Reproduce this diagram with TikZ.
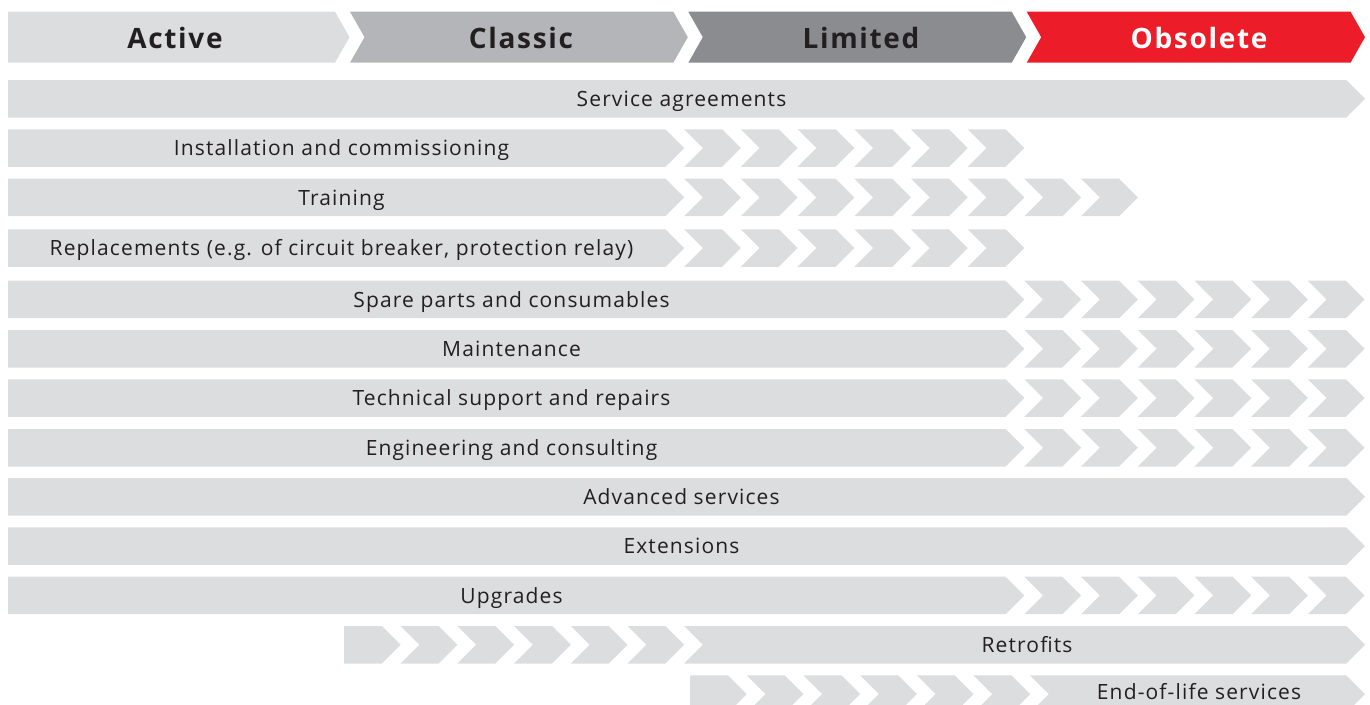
\documentclass[tikz,border=0pt]{standalone}
\usepackage{fontspec}
\setmainfont{Open Sans}
\newfontfamily\rowfont[LetterSpace=5.4]{Open Sans}
\newfontfamily\headfont[LetterSpace=6]{Open Sans}
\definecolor{rowgray}{HTML}{DCDDDF}
\definecolor{activegray}{HTML}{DCDDDF}
\definecolor{classicgray}{HTML}{B4B5B8}
\definecolor{limitedgray}{HTML}{8B8C90}
\definecolor{obsred}{HTML}{ED1C29}
\definecolor{txtdark}{HTML}{231F20}
\tikzset{
  rowfill/.style={fill=rowgray},
  rowtext/.style={font=\rowfont\fontsize{21}{24}\selectfont, text=txtdark, inner sep=0pt, anchor=base},
  headtext/.style={font=\headfont\bfseries\fontsize{28}{32}\selectfont, text=txtdark, inner sep=0pt, anchor=base},
}
% bar / chevron: #1 left x, #2 point x, #3 top y, #4 notch (0 flat, 1 notched)
\newcommand\RowBar[4]{%
  \fill[rowfill] (#1,#3) -- ({#2-18.75},#3) -- (#2,{#3+18.75}) -- ({#2-18.75},{#3+37.5})
    -- (#1,{#3+37.5}) -- ({#1+18.75*#4},{#3+18.75}) -- cycle;}
% run of notched chevrons: #1 start x, #2 count, #3 top y
\newcommand\Chevs[3]{%
  \foreach \i in {1,...,#2}{%
    \pgfmathsetmacro\cx{#1+56.7*(\i-1)}%
    \RowBar{\cx}{\cx+56.7}{#3}{1}}}
% header segment: #1 left, #2 top-right x, #3 notch, #4 colour
\newcommand\HeadSeg[4]{%
  \fill[#4] (#1,11.7) -- (#2,11.7) -- ({#2+14.5},37.2) -- (#2,62.7) -- (#1,62.7)
    -- ({#1+14.5*#3},37.2) -- cycle;}
\begin{document}
\begin{tikzpicture}[x=1pt,y=-1pt]
\useasboundingbox (0,0) rectangle (1370,704);
\clip (0,0) rectangle (1370,704);
% header
\HeadSeg{8}{335}{0}{activegray}
\HeadSeg{350}{673.3}{1}{classicgray}
\HeadSeg{688.3}{1011.7}{1}{limitedgray}
\HeadSeg{1026.7}{1350.5}{1}{obsred}
\node[headtext] (hA) at (175,48) {Active};
\node[headtext] (hC) at (521,48) {Classic};
\node[headtext] (hL) at (861,48) {Limited};
\node[headtext, text=white] (hO) at (1199,48) {Obsolete};
% row 1
\RowBar{8}{1365}{80}{0}
\node[rowtext] (t1) at (681.5,106.5) {Service agreements};
% row 2
\RowBar{8}{684.2}{129.3}{0}
\Chevs{684.2}{6}{129.3}
\node[rowtext] (t2) at (341.5,155.8) {Installation and commissioning};
% row 3
\RowBar{8}{684.2}{178.7}{0}
\Chevs{684.2}{8}{178.7}
\node[rowtext] (t3) at (341.5,205.2) {Training};
% row 4
\RowBar{8}{684.2}{229.3}{0}
\Chevs{684.2}{6}{229.3}
\node[rowtext] (t4) at (341.5,255.8) {Replacements (e.g. of circuit breaker, protection relay)};
% rows 5-8
\RowBar{8}{1024.4}{280.7}{0}
\Chevs{1024.4}{6}{280.7}
\node[rowtext] (t5) at (511.5,307.2) {Spare parts and consumables};
\RowBar{8}{1024.4}{330}{0}
\Chevs{1024.4}{6}{330}
\node[rowtext] (t6) at (511.5,356.5) {Maintenance};
\RowBar{8}{1024.4}{379.3}{0}
\Chevs{1024.4}{6}{379.3}
\node[rowtext] (t7) at (511.5,405.8) {Technical support and repairs};
\RowBar{8}{1024.4}{429}{0}
\Chevs{1024.4}{6}{429}
\node[rowtext] (t8) at (511.5,455.5) {Engineering and consulting};
% rows 9-10
\RowBar{8}{1365}{478}{0}
\node[rowtext] (t9) at (681.5,504.5) {Advanced services};
\RowBar{8}{1365}{527.3}{0}
\node[rowtext] (t10) at (681.5,553.8) {Extensions};
% row 11
\RowBar{8}{1024.4}{576.7}{0}
\Chevs{1024.4}{6}{576.7}
\node[rowtext] (t11) at (511.5,603.2) {Upgrades};
% row 12
\RowBar{344}{400.7}{626}{0}
\Chevs{400.7}{5}{626}
\RowBar{684.2}{1365}{626}{1}
\node[rowtext] (t12) at (1027,652.5) {Retrofits};
% row 13
\RowBar{690}{746.7}{675.3}{0}
\Chevs{746.7}{5}{675.3}
\RowBar{1030}{1365}{675.3}{1}
\node[rowtext] (t13) at (1199,699.5) {End-of-life services};
\end{tikzpicture}
\end{document}
